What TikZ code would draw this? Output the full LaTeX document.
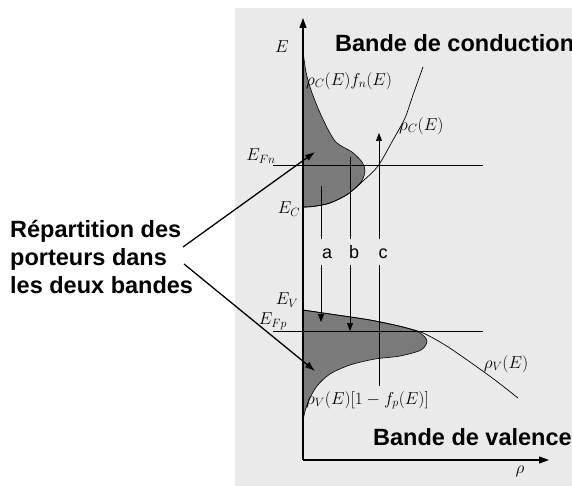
\documentclass[tikz,border=0pt]{standalone}
\usepackage{fontspec}
\setsansfont{Liberation Sans}
\usetikzlibrary{arrows.meta}
\definecolor{panelgray}{HTML}{EAEAEA}
\definecolor{carrier}{HTML}{7A7A7A}

\begin{document}
\begin{tikzpicture}
		[x=1pt, y=-1pt,
		axis/.style={line width=1.1pt, -{Triangle[length=10pt,width=7pt]}},
		level/.style={line width=1pt},
		trans/.style={line width=0.7pt},
		transtip/.style={trans, -{Triangle[length=8pt,width=6pt]}},
		pointer/.style={line width=1.3pt, -{Latex[length=10pt,width=7pt]}},
		band/.style={font=\fontsize{23.5}{28}\selectfont\sffamily\bfseries, inner sep=0pt},
		lab/.style={font=\fontsize{17.28}{20}\selectfont, inner sep=1pt},
		letter/.style={font=\fontsize{18}{20}\selectfont\sffamily, text height=12pt, text depth=0pt, inner xsep=1pt, inner ysep=7pt},
		density/.style={fill=carrier, draw=black, line width=0.6pt}]
		
		\def \xE {303};
		\def \yRho {460};
		
		\useasboundingbox (0,0) rectangle (572,486);
		\fill[panelgray] (235,8) rectangle (572,486);
		
		% carriers in the two bands
		\filldraw[density] plot[smooth] coordinates {(303,207) (313,206.5) (330,203) (348,194) (361,182) (365,171) (362,162) (352,152) (335,141) (321,115) (311,90) (306,72) (303.5,55)} -- cycle;
		\filldraw[density] plot[smooth] coordinates {(303,310) (330,314) (370,320) (403,327) (420,333) (427,341) (421,350) (400,356) (375,359) (350,365) (330,374) (317,386) (309,400) (304.5,413) (303,423)} -- cycle;
		
		% densities of states
		\draw[trans] plot[smooth] coordinates {(303,207) (313,206.5) (330,203) (348,194) (363,181) (378,166) (393,140) (405,118) (413,95) (423,67)};
		\draw[trans] plot[smooth] coordinates {(303,310) (330,314) (370,320) (403,327) (423,333) (445,345) (470,362) (495,380) (518,398)};
		
		% quasi Fermi levels
		\draw[level] (273,166) -- (483,166);
		\draw[level] (273,331) -- (483,331);
		
		\draw[axis] (\xE,\yRho) -- (\xE,18);
		\draw[axis] (\xE,\yRho) -- (549,\yRho);
		
		\node[lab] (E) at (282,47) {$E$};
		\node[lab] (rho) at (520,471) {$\rho$};
		\node[lab] (EFn) at (261,156) {$E_{Fn}$};
		\node[lab] (EC) at (289,209) {$E_C$};
		\node[lab] (EV) at (287,300) {$E_V$};
		\node[lab] (EFp) at (273,321) {$E_{Fp}$};
		\node[lab, anchor=west] (rhoCfn) at (305,81) {$\rho_C(E)f_n(E)$};
		\node[lab, anchor=west] (rhoC) at (398,126) {$\rho_C(E)$};
		\node[lab] (rhoV) at (506,364) {$\rho_V(E)$};
		\node[lab, anchor=west] (rhoVfp) at (305,400) {$\rho_V(E)\bigl[1-f_p(E)\bigr]$};
		
		\node[band, anchor=west] (bc) at (335,43) {Bande de conduction};
		\node[band, anchor=west] (bv) at (373,437) {Bande de valence};
		\node[band, anchor=west, align=left] (repart) at (10,257) {Répartition des\\porteurs dans\\les deux bandes};
		
		% transitions a, b, c
		\coordinate (aTop) at (321,186);
		\coordinate (aTip) at (321,322);
		\coordinate (bTop) at (350,157);
		\coordinate (bTip) at (350,331);
		\coordinate (cBot) at (379,386);
		\coordinate (cTip) at (379,133);
		\node[letter] (la) at (327,252) {a};
		\node[letter] (lb) at (354,252) {b};
		\node[letter] (lc) at (383,252) {c};
		\draw[trans] (aTop) -- (aTop |- la.north);
		\draw[transtip] (aTop |- la.south) -- (aTip);
		\draw[trans] (bTop) -- (bTop |- lb.north);
		\draw[transtip] (bTop |- lb.south) -- (bTip);
		\draw[trans] (cBot) -- (cBot |- lc.south);
		\draw[transtip] (cBot |- lc.north) -- (cTip);
		
		\coordinate (pU) at (183,247);
		\coordinate (pL) at (184,264);
		\coordinate (nC) at (315,152);
		\coordinate (nV) at (315,371);
		\draw[pointer] (pU) -- (nC);
		\draw[pointer] (pL) -- (nV);

	\end{tikzpicture}
\end{document}
